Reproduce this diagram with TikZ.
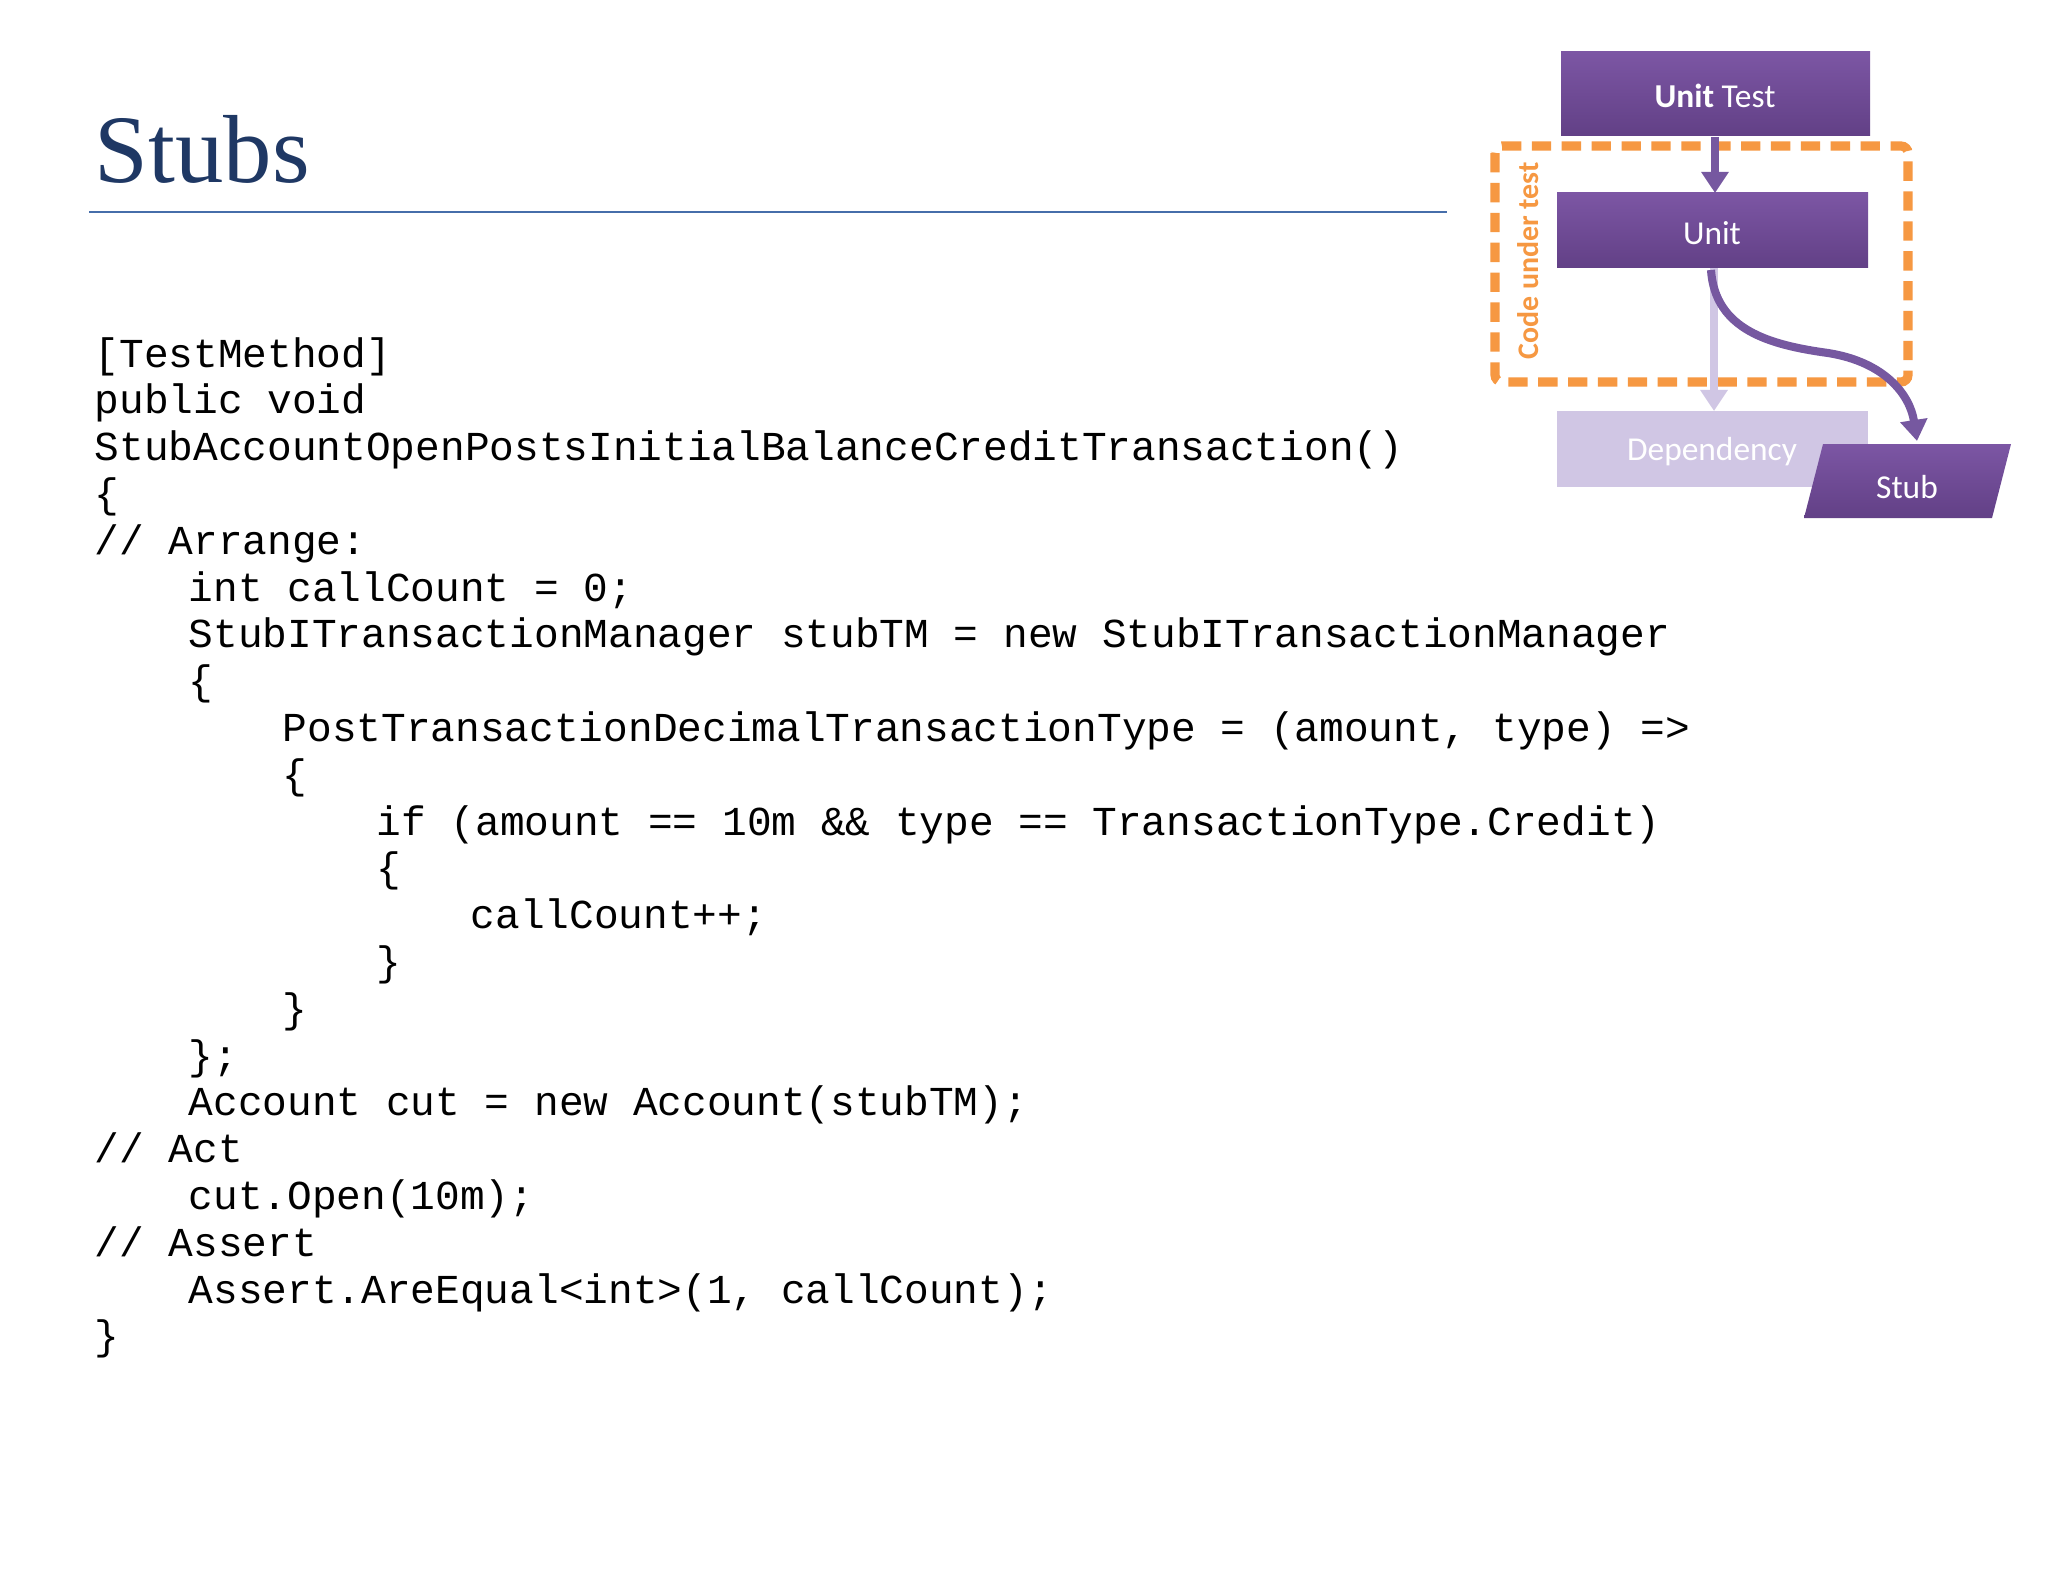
\documentclass[tikz,border=0pt]{standalone}
\usepackage{fontspec}
\setmainfont{Liberation Serif}
\newfontfamily\codefont{Liberation Mono}
\newfontfamily\calfont{Carlito}
\usetikzlibrary{arrows.meta}
\definecolor{titleblue}{RGB}{31,56,100}
\definecolor{rulecol}{RGB}{70,110,170}
\definecolor{ptop}{RGB}{124,86,164}
\definecolor{pbot}{RGB}{98,64,134}
\definecolor{dep}{RGB}{208,198,228}
\definecolor{orng}{RGB}{246,152,66}
\definecolor{arrp}{RGB}{118,88,160}
\tikzset{
 code/.style={anchor=base west,inner sep=0,font=\codefont\fontsize{11.7pt}{13pt}\selectfont},
 pbox/.style={top color=ptop,bottom color=pbot},
 btext/.style={text=white,font=\calfont\fontsize{9.5pt}{10pt}\selectfont,inner sep=0},
 parr/.style={draw=arrp,line width=2.3pt,-{Triangle[width=7.5pt,length=6pt]}},
}
\begin{document}
\begin{tikzpicture}[x=0.01cm,y=-0.01cm]
\useasboundingbox (0,0) rectangle (2048,1582);
\fill[white] (0,0) rectangle (2048,1582);
\node[anchor=base west,inner sep=0,text=titleblue,font=\fontsize{27.5pt}{30pt}\selectfont] (title) at (94,183) {Stubs};
\coordinate (r1) at (89,212); \coordinate (r2) at (1447,212);
\draw[rulecol,line width=0.6pt] (r1) -- (r2);
% code
\begin{scope}[yshift=-0.04cm]
\node[code] (c1) at (94,363) {[TestMethod]};
\node[code] (c2) at (94,409.8) {public void};
\node[code] (c3) at (94,456.6) {StubAccountOpenPostsInitialBalanceCreditTransaction()};
\node[code] (c4) at (94,503.4) {\{};
\node[code] (c5) at (94,550.2) {// Arrange:};
\node[code] (c6) at (188,597) {int callCount = 0;};
\node[code] (c7) at (188,643.8) {StubITransactionManager stubTM = new StubITransactionManager};
\node[code] (c8) at (188,690.6) {\{};
\node[code] (c9) at (282,737.4) {PostTransactionDecimalTransactionType = (amount, type) =>};
\node[code] (c10) at (282,784.2) {\{};
\node[code] (c11) at (376,831) {if (amount == 10m \&\& type == TransactionType.Credit)};
\node[code] (c12) at (376,877.8) {\{};
\node[code] (c13) at (470,924.6) {callCount++;};
\node[code] (c14) at (376,971.4) {\}};
\node[code] (c15) at (282,1018.2) {\}};
\node[code] (c16) at (188,1065) {\};};
\node[code] (c17) at (188,1111.8) {Account cut = new Account(stubTM);};
\node[code] (c18) at (94,1158.6) {// Act};
\node[code] (c19) at (188,1205.4) {cut.Open(10m);};
\node[code] (c20) at (94,1252.2) {// Assert};
\node[code] (c21) at (188,1299) {Assert.AreEqual<int>(1, callCount);};
\node[code] (c22) at (94,1345.8) {\}};
\end{scope}
% diagram
\draw[orng,line width=2.6pt,dash pattern=on 5.5pt off 3pt,rounded corners=2pt] (1495,146) rectangle (1908,382);
\node[rotate=90,text=orng,font=\calfont\bfseries\fontsize{8.5pt}{9pt}\selectfont,inner sep=0] (cut) at (1528,261) {Code under test};
\path[pbox] (1561,52) rectangle (1870,136);
\node[btext] (utl) at (1715,96) {\textbf{Unit} Test};
\path[pbox] (1557,193) rectangle (1868,268);
\node[btext] (unit) at (1712,233) {Unit};
\fill[dep] (1557,411) rectangle (1868,487);
\node[btext] (depl) at (1712,452) {Dependency};
\path[pbox] (1823,444) -- (2011,444) -- (1992,518) -- (1804,518) -- cycle;
\node[btext] (stub) at (1907,487) {Stub};
\coordinate (a1) at (1715,137); \coordinate (a2) at (1715,193);
\draw[parr] (a1) -- (a2);
\coordinate (d1) at (1714,268); \coordinate (d2) at (1714,411);
\draw[draw=dep,line width=2.3pt,-{Triangle[width=7.5pt,length=6pt]}] (d1) -- (d2);
\coordinate (s1) at (1711,270); \coordinate (s2) at (1917,441);
\draw[parr] (s1) .. controls (1715,330) and (1770,345) .. (1828,353) .. controls (1885,362) and (1910,395) .. (s2);
\end{tikzpicture}
\end{document}
